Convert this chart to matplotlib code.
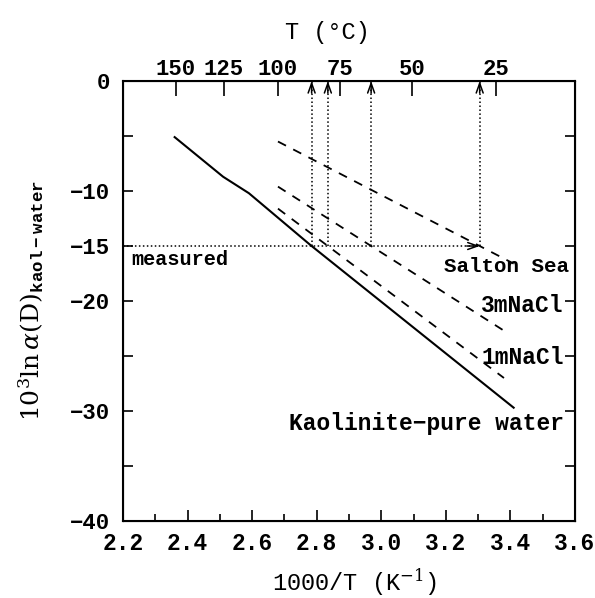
import numpy as np
import matplotlib.pyplot as plt
from matplotlib.ticker import MultipleLocator, FuncFormatter

plt.rcParams['font.family'] = ['Liberation Mono', 'DejaVu Sans']
plt.rcParams['mathtext.fontset'] = 'custom'
plt.rcParams['mathtext.rm'] = 'DejaVu Serif'
plt.rcParams['mathtext.it'] = 'DejaVu Serif:italic'
plt.rcParams['mathtext.bf'] = 'Liberation Mono:bold'

# values: 1000/T vs 10^3 ln alpha(D)
x_pure = [2.36, 2.51, 2.59, 2.78, 3.41]
y_pure = [-5.1, -8.7, -10.2, -14.9, -29.7]
x_1m = [2.68, 3.38]
y_1m = [-11.6, -27.0]
x_3m = [2.68, 3.38]
y_3m = [-9.6, -22.7]
x_salton = [2.68, 3.41]
y_salton = [-5.5, -16.6]
measured = -15
t_ticks = [150, 125, 100, 75, 50, 25]
y_labelled = [0, -10, -15, -20, -30, -40]

fig = plt.figure(figsize=(5.95, 5.98), dpi=100)
ax = fig.add_axes([0.2067, 0.1288, 0.7597, 0.7357])

ax.plot(x_pure, y_pure, color='black', lw=1.5)
dash = (0, (5, 4.5))
for xs, ys in [(x_1m, y_1m), (x_3m, y_3m), (x_salton, y_salton)]:
    ax.plot(xs, ys, color='black', lw=1.3, linestyle=dash)

# where each curve crosses the measured value
cross = []
for xs, ys in [(x_pure, y_pure), (x_1m, y_1m), (x_3m, y_3m), (x_salton, y_salton)]:
    cross.append(np.interp(measured, ys[::-1], xs[::-1]))

dot = (0, (1, 1.6))
head = '->,head_length=0.7,head_width=0.25'
ax.plot([2.2, cross[-1]], [measured, measured], color='black', lw=1.1, linestyle=dot)
ax.annotate('', xy=(cross[-1], measured), xytext=(cross[-1] - 0.04, measured),
            arrowprops=dict(arrowstyle=head, lw=1.1, color='black', shrinkA=0, shrinkB=0))
for xc in cross:
    ax.plot([xc, xc], [measured, 0], color='black', lw=1.1, linestyle=dot)
    ax.annotate('', xy=(xc, 0), xytext=(xc, -1.1),
                arrowprops=dict(arrowstyle=head, lw=1.1, color='black', shrinkA=0, shrinkB=0))

ax.text(2.225, -16.2, 'measured', fontsize=14.5, fontweight='bold', va='center', ha='left')
ax.text(3.58, -16.9, 'Salton Sea', fontsize=15, fontweight='bold', va='center', ha='right')
ax.text(3.565, -20.4, '3mNaCl', fontsize=16.5, fontweight='bold', va='center', ha='right')
ax.text(3.565, -25.1, '1mNaCl', fontsize=16.5, fontweight='bold', va='center', ha='right')
ax.text(3.565, -31.1, 'Kaolinite\u2212pure water', fontsize=16.5, fontweight='bold',
        va='center', ha='right')

ax.set_xlim(2.2, 3.6)
ax.set_ylim(-40, 0)
ax.xaxis.set_major_locator(MultipleLocator(0.2))
ax.xaxis.set_minor_locator(MultipleLocator(0.1))
ax.xaxis.set_major_formatter(FuncFormatter(lambda v, p: f'{v:.1f}'))
ax.yaxis.set_major_locator(MultipleLocator(5))
ax.yaxis.set_major_formatter(FuncFormatter(
    lambda v, p: (f'{int(round(v))}'.replace('-', '\u2212')) if int(round(v)) in y_labelled else ''))
ax.tick_params(axis='x', which='major', direction='in', length=8, width=1.2, labelsize=16.5, pad=8)
ax.tick_params(axis='x', which='minor', direction='in', length=5, width=1.2)
ax.tick_params(axis='y', which='major', direction='in', length=7, width=1.2, labelsize=16, pad=9,
               right=True)
for lab in ax.get_xticklabels() + ax.get_yticklabels():
    lab.set_fontweight('bold')
for s in ax.spines.values():
    s.set_linewidth(1.5)

ax2 = ax.twiny()
ax2.set_xlim(ax.get_xlim())
ax2.set_xticks([1000 / (t + 273.15) for t in t_ticks])
ax2.set_xticklabels([str(t) for t in t_ticks], fontweight='bold')
ax2.tick_params(axis='x', direction='in', length=11, width=1.2, labelsize=16, pad=1)
ax2.set_xlabel('T (\u00b0C)', fontsize=17)
ax2.xaxis.set_label_coords(0.453, 1.095)

ax.set_xlabel('1000/T (K$^{-1}$)', fontsize=17)
ax.xaxis.set_label_coords(0.513, -0.103)
ax.set_ylabel(r'$10^3\ln\alpha(\mathrm{D})_{\mathbf{kaol-water}}$', fontsize=18)
ax.yaxis.set_label_coords(-0.171, 0.5)

fig.savefig('out.png', dpi=100)
